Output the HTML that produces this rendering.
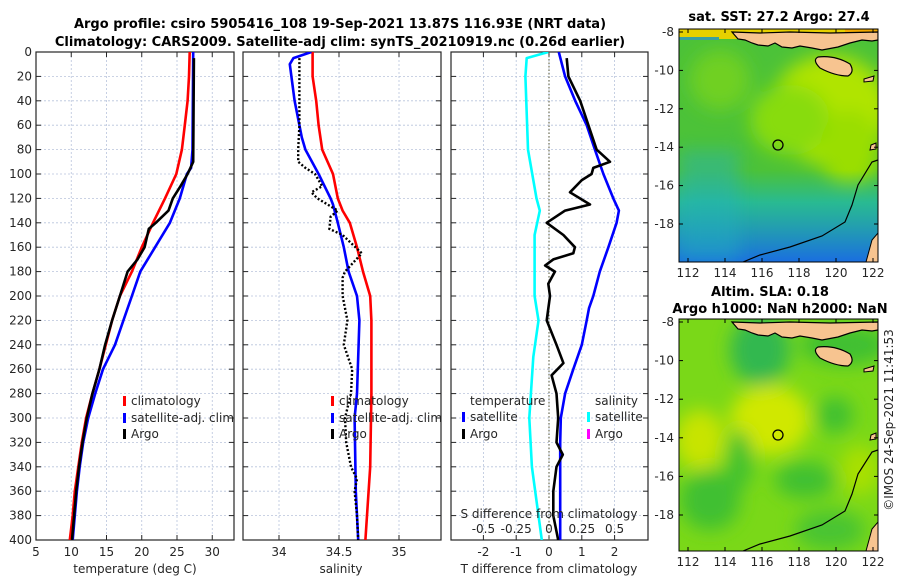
<!DOCTYPE html>
<html><head><meta charset="utf-8"><style>
body{margin:0;background:#fff}
svg text{font-family:"DejaVu Sans","Liberation Sans",sans-serif;fill:#262626}
.t{font-weight:bold;font-size:13px;fill:#000}
.tk{font-size:12px}
</style></head><body>
<svg id="fig" width="900" height="580" viewBox="0 0 900 580" xmlns="http://www.w3.org/2000/svg">
<defs>
<filter id="blur" x="-50%" y="-50%" width="200%" height="200%"><feGaussianBlur stdDeviation="9"/></filter>
<clipPath id="c1"><rect x="36" y="52" width="198" height="488"/></clipPath>
<clipPath id="c2"><rect x="243" y="52" width="198" height="488"/></clipPath>
<clipPath id="c3"><rect x="451" y="52" width="197" height="488"/></clipPath>
<clipPath id="m1"><rect x="679" y="29" width="199" height="233"/></clipPath>
<clipPath id="m2"><rect x="679" y="319" width="199" height="232"/></clipPath>
<linearGradient id="sstg" x1="0" y1="0" x2="0" y2="1">
<stop offset="0" stop-color="#22b8a0" stop-opacity="0"/><stop offset="0.35" stop-color="#20b8a8" stop-opacity="0.8"/><stop offset="1" stop-color="#1a6ee0"/></linearGradient>
<g id="islands">
<path d="M732,32 L760,33 L790,32 L830,33 L878,32 V40 L872,41 L862,40 L850,43 L838,47 L822,50 L812,48 L800,46 L792,48 L782,47 L775,43 L768,46 L758,45 L752,43 L745,40 L738,39 Z" fill="#f7c490" stroke="#000" stroke-width="1.2"/>
<path d="M818,57 Q835,55 850,64 Q855,72 848,76 Q835,76 820,68 Q812,60 818,57 Z" fill="#f7c490" stroke="#000" stroke-width="1.2"/>
<path d="M864,79 L874,76 L873,81 L864,82 Z" fill="#f7c490" stroke="#000" stroke-width="1"/>
</g>
</defs>
<text class="t" x="340" y="28" text-anchor="middle">Argo profile: csiro 5905416_108 19-Sep-2021 13.87S 116.93E (NRT data)</text>
<text class="t" x="340" y="46" text-anchor="middle">Climatology: CARS2009. Satellite-adj clim: synTS_20210919.nc (0.26d earlier)</text>
<g id="p1"></g>
<g id="p2"></g>
<g id="p3"></g>

<!-- SST map -->
<g>
<text class="t" x="779" y="21" text-anchor="middle">sat. SST: 27.2 Argo: 27.4</text>
<g clip-path="url(#m1)">
<rect x="679" y="29" width="199" height="233" fill="#4cc238"/>
<g filter="url(#blur)">
<ellipse cx="830" cy="110" rx="60" ry="55" fill="#b0e400"/>
<ellipse cx="790" cy="120" rx="40" ry="35" fill="#88dc10"/>
<ellipse cx="850" cy="150" rx="30" ry="40" fill="#9ade00"/>
<ellipse cx="720" cy="80" rx="30" ry="30" fill="#70d020"/>
</g>
<rect x="679" y="29" width="199" height="10" fill="#e6d000"/>
<rect x="845" y="29" width="33" height="9" fill="#f0a800"/>
<rect x="679" y="37" width="40" height="3" fill="#3aa0a0"/>
<rect x="679" y="170" width="199" height="92" fill="url(#sstg)"/>
<rect x="679" y="150" width="60" height="112" fill="#20b0c0" opacity="0.45" filter="url(#blur)"/>
<use href="#islands"/>
<path d="M871,145 L876,143 L876,149 L870,150 Z" fill="#f7c490" stroke="#000" stroke-width="1"/>
<path d="M743,262 L760,255 L790,247 L822,236 L845,222 L852,205 L858,185 L872,162 L878,160" fill="none" stroke="#000" stroke-width="1.2"/>
<path d="M866,262 L872,240 L878,233 V262 Z" fill="#f7c490" stroke="#000"/>
</g>
<rect x="679" y="29" width="199" height="233" fill="none" stroke="#000" stroke-width="1"/>
<circle cx="778" cy="145" r="5" fill="none" stroke="#000" stroke-width="1.3"/>
<g id="m1ax"></g>
</g>

<!-- SLA map -->
<g>
<text class="t" x="770" y="296" text-anchor="middle">Altim. SLA: 0.18</text>
<text class="t" x="780" y="313" text-anchor="middle">Argo h1000: NaN h2000: NaN</text>
<g clip-path="url(#m2)">
<rect x="679" y="319" width="199" height="232" fill="#7ad818"/>
<g filter="url(#blur)">
<ellipse cx="760" cy="350" rx="30" ry="35" fill="#30b850"/>
<ellipse cx="845" cy="345" rx="45" ry="20" fill="#40c030"/>
<ellipse cx="770" cy="420" rx="40" ry="35" fill="#d0e800"/>
<ellipse cx="700" cy="440" rx="25" ry="30" fill="#c8e400"/>
<ellipse cx="740" cy="460" rx="12" ry="30" fill="#40c030"/>
<ellipse cx="835" cy="415" rx="18" ry="18" fill="#40c030"/>
<ellipse cx="805" cy="480" rx="30" ry="18" fill="#40c030"/>
<ellipse cx="710" cy="500" rx="30" ry="30" fill="#40c030"/>
<ellipse cx="830" cy="530" rx="35" ry="20" fill="#48c430"/>
<ellipse cx="860" cy="470" rx="20" ry="25" fill="#a8e000"/>
</g>
<use href="#islands" transform="translate(0,290)"/>
<path d="M871,435 L876,433 L876,439 L870,440 Z" fill="#f7c490" stroke="#000" stroke-width="1"/>
<path d="M743,551 L760,544 L790,536 L822,525 L845,511 L852,494 L858,474 L872,452 L878,450" fill="none" stroke="#000" stroke-width="1.2"/>
<path d="M866,551 L872,529 L878,522 V551 Z" fill="#f7c490" stroke="#000"/>
</g>
<rect x="679" y="319" width="199" height="232" fill="none" stroke="#000" stroke-width="1"/>
<circle cx="778" cy="435" r="5" fill="none" stroke="#000" stroke-width="1.3"/>
<g id="m2ax"></g>
</g>
<text x="893" y="420" transform="rotate(-90 893 420)" text-anchor="middle" class="tk">©IMOS 24-Sep-2021 11:41:53</text>
</svg>
<script>
// ---- data ----
const depthTicks=[0,20,40,60,80,100,120,140,160,180,200,220,240,260,280,300,320,340,360,380,400];
const tempTicks=[5,10,15,20,25,30];
const salTicks=[34,34.5,35];
const tdiffTicks=[-2,-1,0,1,2];
const sdiffTicks=[-0.5,-0.25,0,0.25,0.5];
const climDepth=[0,20,40,60,80,100,120,140,160,180,200,220,240,260,280,300,320,340,360,380,400];
const climTemp=[26.8,26.7,26.5,26.1,25.7,24.9,23.3,21.6,20.0,18.6,16.9,15.8,14.9,14.0,13.0,12.1,11.5,11.0,10.5,10.2,9.8];
const satDepth=[0,80,95,100,120,140,160,180,200,220,240,260,280,300,320,340,360,380,400];
const satTemp=[27.3,27.2,27.0,26.4,25.4,24.0,21.9,19.8,18.6,17.4,16.2,14.5,13.4,12.4,11.7,11.2,10.8,10.5,10.2];
const argoDepth=[5,90,100,110,120,130,140,145,160,170,180,200,220,240,260,280,300,320,340,360,380,400];
const argoTemp=[27.4,27.3,26.5,25.5,24.4,23.8,22.0,21.0,20.4,19.4,18.0,16.9,15.8,14.8,14.0,13.0,12.2,11.6,11.1,10.7,10.4,10.1];
const climSalDepth=[0,20,40,60,80,100,120,130,140,160,180,200,220,240,280,340,400];
const climSal=[34.28,34.28,34.31,34.33,34.36,34.45,34.49,34.53,34.59,34.65,34.70,34.76,34.77,34.77,34.77,34.76,34.72];
const satSalDepth=[0,5,10,40,70,80,100,120,125,140,160,180,200,220,280,300,360,400];
const satSal=[34.27,34.12,34.09,34.13,34.19,34.22,34.33,34.43,34.45,34.49,34.54,34.58,34.65,34.67,34.65,34.63,34.64,34.66];
const argoSalDepth=[5,60,80,90,95,100,110,115,120,130,135,145,150,165,180,185,200,220,240,260,280,300,320,340,350,360,380,400];
const argoSal=[34.17,34.17,34.16,34.16,34.22,34.30,34.36,34.27,34.32,34.49,34.43,34.42,34.53,34.69,34.55,34.53,34.53,34.57,34.54,34.61,34.60,34.55,34.56,34.60,34.65,34.63,34.65,34.66];
const tdSatDepth=[0,20,40,60,80,100,120,130,140,160,180,200,210,220,240,260,280,300,320,400];
const tdSat=[0.3,0.49,0.8,1.15,1.4,1.66,1.96,2.13,2.06,1.81,1.55,1.35,1.22,1.15,1.0,0.74,0.49,0.36,0.34,0.34];
const tdArgoDepth=[5,20,40,60,80,90,95,100,105,115,125,130,140,150,160,165,170,175,180,190,200,220,240,255,265,280,300,320,330,340,360,380,400];
const tdArgo=[0.54,0.59,0.95,1.2,1.45,1.86,1.35,1.3,1.0,0.64,1.25,0.49,-0.07,0.44,0.79,0.74,0.13,-0.12,0.18,-0.02,0.03,-0.07,0.23,0.44,0.08,0.23,0.28,0.23,0.42,0.23,0.13,0.13,0.28];
const sdSatDepth=[0,5,20,80,120,130,150,200,220,250,300,340,400];
const sdSat=[-0.005,-0.17,-0.18,-0.16,-0.095,-0.07,-0.11,-0.11,-0.08,-0.12,-0.15,-0.13,-0.055];
const latTicks=[-8,-10,-12,-14,-16,-18];
const lonTicks=[112,114,116,118,120,122];

// ---- scales ----
const NS="http://www.w3.org/2000/svg";
const yD=d=>52+d*488/400;
const xT=t=>36+(t-5)*7.05;
const xS=s=>279+(s-34)*120;
const xTD=t=>549+t*32.8;
const xSD=s=>549+s*131.2;
function el(tag,attrs,parent,txt){const e=document.createElementNS(NS,tag);for(const k in attrs)e.setAttribute(k,attrs[k]);if(txt!==undefined)e.textContent=txt;parent.appendChild(e);return e;}

function panel(g,x0,x1,xticks,xf,xlabels,clip,ylab){
  for(const d of depthTicks){
    const l=el('line',{x1:x0,x2:x1,y1:yD(d),y2:yD(d),stroke:'#b8c4dc','stroke-width':0.8,'stroke-dasharray':'2,2'},g);
    
    
    el('line',{x1:x0,x2:x0+5,y1:yD(d),y2:yD(d),stroke:'#262626'},g);
    el('line',{x1:x1,x2:x1-5,y1:yD(d),y2:yD(d),stroke:'#262626'},g);
    if(ylab){const t=el('text',{x:x0-4,y:yD(d)+4,'text-anchor':'end',class:'tk'},g,String(d));
      
      }
  }
  xticks.forEach((v,i)=>{
    const x=xf(v);
    const l=el('line',{x1:x,x2:x,y1:52,y2:540,stroke:'#b8c4dc','stroke-width':0.8,'stroke-dasharray':'2,2'},g);
    
    
    el('line',{x1:x,x2:x,y1:540,y2:535,stroke:'#262626'},g);
    el('line',{x1:x,x2:x,y1:52,y2:57,stroke:'#262626'},g);
    const t=el('text',{x:x,y:556,'text-anchor':'middle',class:'tk'},g,xlabels[i]);
    
    
  });
  const r=el('rect',{x:x0,y:52,width:x1-x0,height:488,fill:'none',stroke:'#262626','stroke-width':1.2},g);
  
  
}
function line(g,ds,vs,xf,color,name,extra){
  const pts=ds.map((d,i)=>xf(vs[i]).toFixed(1)+','+yD(d).toFixed(1)).join(' ');
  const p=el('polyline',Object.assign({points:pts,fill:'none',stroke:color,'stroke-width':2.6,'stroke-linejoin':'round'},extra||{}),g);
  
  
}
function legend(g,x,y,color,label,name){
  el('rect',{x:x,y:y-9,width:3,height:10,fill:color},g);
  const t=el('text',{x:x+8,y:y,class:'tk','font-size':'13'},g,label);
  
  
}
// Panel 1
const p1=document.getElementById('p1');
panel(p1,36,234,tempTicks,xT,tempTicks.map(String),'c1',true);
const g1=el('g',{'clip-path':'url(#c1)'},p1);
line(g1,climDepth,climTemp,xT,'#ff0000','climatology-temp-line');
line(g1,satDepth,satTemp,xT,'#0000ff','satellite-temp-line');
line(g1,argoDepth,argoTemp,xT,'#000000','argo-temp-line');
el('text',{x:135,y:573,'text-anchor':'middle',class:'tk'},p1,'temperature (deg C)');
legend(p1,123,405,'#ff0000','climatology','legend-climatology');
legend(p1,123,422,'#0000ff','satellite-adj. clim','legend-satellite');
legend(p1,123,438,'#000000','Argo','legend-argo');
// Panel 2
const p2=document.getElementById('p2');
panel(p2,243,441,salTicks,xS,['34','34.5','35'],'c2',false);
const g2=el('g',{'clip-path':'url(#c2)'},p2);
line(g2,climSalDepth,climSal,xS,'#ff0000','climatology-sal-line');
line(g2,satSalDepth,satSal,xS,'#0000ff','satellite-sal-line');
line(g2,argoSalDepth,argoSal,xS,'#000000','argo-sal-line',{'stroke-dasharray':'2,2','stroke-width':2.4,'stroke-linejoin':'miter'});
el('text',{x:341,y:573,'text-anchor':'middle',class:'tk'},p2,'salinity');
legend(p2,331,405,'#ff0000','climatology','legend2-climatology');
legend(p2,331,422,'#0000ff','satellite-adj. clim','legend2-satellite');
legend(p2,331,438,'#000000','Argo','legend2-argo');
// Panel 3
const p3=document.getElementById('p3');
panel(p3,451,648,tdiffTicks,xTD,tdiffTicks.map(String),'c3',false);
const g3=el('g',{'clip-path':'url(#c3)'},p3);
el('line',{x1:xTD(0),x2:xTD(0),y1:52,y2:540,stroke:'#555533','stroke-width':1,'stroke-dasharray':'1.5,2'},g3);
line(g3,sdSatDepth,sdSat,xSD,'#00ffff','satellite-sdiff-line');
line(g3,tdSatDepth,tdSat,xTD,'#0000ff','satellite-tdiff-line');
line(g3,tdArgoDepth,tdArgo,xTD,'#000000','argo-tdiff-line');
el('text',{x:549,y:573,'text-anchor':'middle',class:'tk'},p3,'T difference from climatology');
el('text',{x:549,y:518,'text-anchor':'middle',class:'tk'},p3,'S difference from climatology');
sdiffTicks.forEach(v=>{const t=el('text',{x:xSD(v),y:533,'text-anchor':'middle',class:'tk'},p3,String(v));
  
  });
el('text',{x:470,y:405,class:'tk','font-size':'13'},p3,'temperature');
el('text',{x:595,y:405,class:'tk','font-size':'13'},p3,'salinity');
legend(p3,462,421,'#0000ff','satellite','legend3-t-satellite');
legend(p3,462,438,'#000000','Argo','legend3-t-argo');
legend(p3,587,421,'#00ffff','satellite','legend3-s-satellite');
legend(p3,587,438,'#ff00ff','Argo','legend3-s-argo');
// Map axes
function mapAxes(id,top,bot,lat8,lat18){
  const g=document.getElementById(id);
  const yl=l=>lat8+(l+8)*(lat18-lat8)/(-10);
  const xl=l=>688+(l-112)*18.5;
  latTicks.forEach(l=>{const y=yl(l);
    el('line',{x1:679,x2:683,y1:y,y2:y,stroke:'#000'},g);el('line',{x1:878,x2:874,y1:y,y2:y,stroke:'#000'},g);
    const t=el('text',{x:674,y:y+4,'text-anchor':'end',class:'tk'},g,String(l));
    
    });
  lonTicks.forEach(l=>{const x=xl(l);
    el('line',{x1:x,x2:x,y1:bot,y2:bot-4,stroke:'#000'},g);el('line',{x1:x,x2:x,y1:top,y2:top+4,stroke:'#000'},g);
    const t=el('text',{x:x,y:bot+15,'text-anchor':'middle',class:'tk'},g,String(l));
    
    });
}
mapAxes('m1ax',29,262,32,224);
mapAxes('m2ax',319,551,322,515);
</script>
</body></html>
